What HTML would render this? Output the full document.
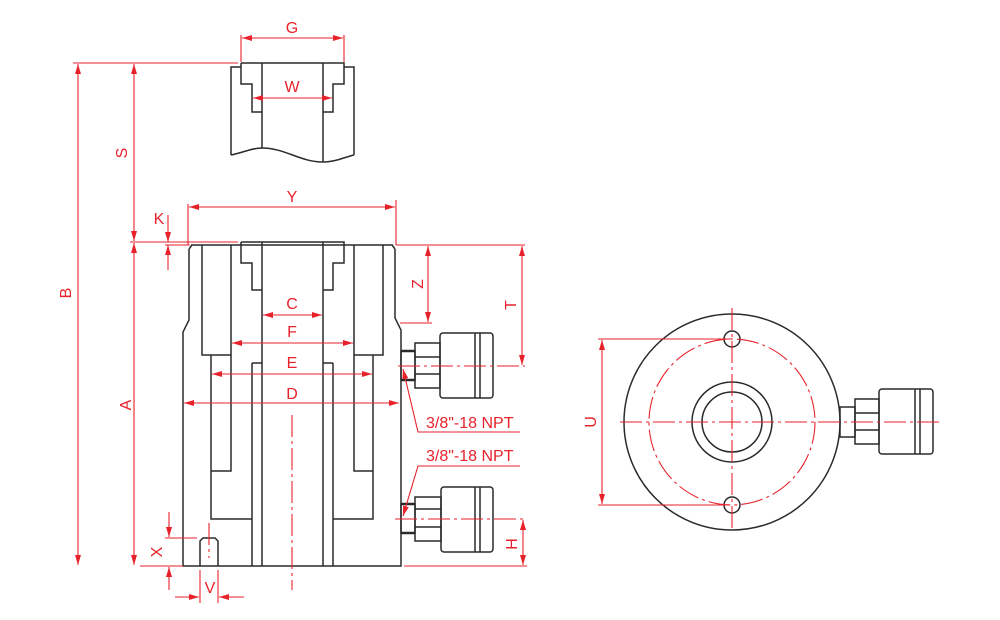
<!DOCTYPE html>
<html><head><style>
html,body{margin:0;padding:0;background:#fff;width:1000px;height:620px;overflow:hidden}
text{font-family:"Liberation Sans",sans-serif;font-size:16px;fill:#e8222b}
</style></head><body>
<svg width="1000" height="620" viewBox="0 0 1000 620" xmlns="http://www.w3.org/2000/svg">
<defs>
<marker id="a" viewBox="0 0 10 6" refX="10" refY="3" markerWidth="10" markerHeight="6" orient="auto-start-reverse" markerUnits="userSpaceOnUse"><path d="M0,0L10,3L0,6z" fill="#e8222b"/></marker>
</defs>
<g fill="none" stroke="#2a2a2a" stroke-width="1.5">
<path d="M241,63H344V84H333V112H323M241,63V84H252V112H262"/>
<path d="M241,67H231V155M344,67H354V155"/>
<path d="M262,112V148M323,63V162M262,63V112"/>
<path d="M231,155C245,152 252,148 262,148C285,148 300,162 323,162C335,162 345,157 354,155"/>
<path d="M191,245H393M189,249V320L183,332V566H401V330L395,318V249M189,249L192,245M395,249L392,245"/>
<path d="M241,242H344V263H333V290H323M241,242V263H252V290H262"/>
<path d="M262,242V566M323,242V566M252,363H262M252,363V566M333,363H323M333,363V566"/>
<path d="M202,245V355H231M231,245V471H211M211,355V519H252"/>
<path d="M383,245V355H354M354,245V471H373M373,355V519H333"/>
<path d="M200,566V541L203,538H215L218,541V566"/>
<rect x="401" y="351" width="14" height="29"/>
<path d="M401,351H415M401,380H415" stroke-width="2.5"/>
<rect x="415" y="343" width="25" height="45"/>
<path d="M415,357H440M415,374H440"/>
<rect x="440" y="333" width="53" height="65" rx="3"/>
<path d="M475,333V398M480,333V398"/>
<rect x="401" y="504" width="14" height="29"/>
<path d="M401,504H415M401,533H415" stroke-width="2.5"/>
<rect x="415" y="497" width="26" height="44"/>
<path d="M415,509H441M415,527H441"/>
<rect x="441" y="487" width="52" height="65" rx="3"/>
<path d="M475,487V552M480,487V552"/>
<circle cx="732" cy="422" r="108"/>
<circle cx="732" cy="422" r="40"/>
<circle cx="732" cy="422" r="30"/>
<circle cx="732" cy="339" r="8"/>
<circle cx="732" cy="505" r="8"/>
<rect x="840" y="407" width="15" height="30"/>
<rect x="855" y="399" width="24" height="45"/>
<path d="M855,413H879M855,430H879"/>
<rect x="879" y="389" width="54" height="65" rx="3"/>
<path d="M915,389V454M920,389V454"/>
</g>
<g fill="none" stroke="#e8222b" stroke-width="1.1">
<circle cx="732" cy="422" r="83" stroke-dasharray="22,4,3,4"/>
<path d="M620,422H942M732,308V530M292,415V590M209,523V558M395,519H527M398,366H525" stroke-dasharray="22,4,3,4"/>
<path d="M241,35V62M344,35V62"/>
<path d="M242,38H343" marker-start="url(#a)" marker-end="url(#a)"/>
<path d="M253,98H332" marker-start="url(#a)" marker-end="url(#a)"/>
<path d="M73,63H238M130,242H238M165,245H190"/>
<path d="M78,64V565" marker-start="url(#a)" marker-end="url(#a)"/>
<path d="M134,64V241" marker-start="url(#a)" marker-end="url(#a)"/>
<path d="M134,243V565" marker-start="url(#a)" marker-end="url(#a)"/>
<path d="M168,215V242" marker-end="url(#a)"/>
<path d="M168,270V245" marker-end="url(#a)"/>
<path d="M188,204V245M396,200V245M396,245H525"/>
<path d="M189,207H395" marker-start="url(#a)" marker-end="url(#a)"/>
<path d="M400,323H432"/>
<path d="M428,246V322" marker-start="url(#a)" marker-end="url(#a)"/>
<path d="M522,246V365" marker-start="url(#a)" marker-end="url(#a)"/>
<path d="M404,566H527"/>
<path d="M523,520V565" marker-start="url(#a)" marker-end="url(#a)"/>
<path d="M140,566H183M165,538H197"/>
<path d="M169,512V537" marker-end="url(#a)"/>
<path d="M169,590V567" marker-end="url(#a)"/>
<path d="M200,570V603M218,570V603"/>
<path d="M175,597H199" marker-end="url(#a)"/>
<path d="M244,597H219" marker-end="url(#a)"/>
<path d="M263,315H322" marker-start="url(#a)" marker-end="url(#a)"/>
<path d="M232,343H353" marker-start="url(#a)" marker-end="url(#a)"/>
<path d="M212,374H372" marker-start="url(#a)" marker-end="url(#a)"/>
<path d="M184,403H399" marker-start="url(#a)" marker-end="url(#a)"/>
<path d="M598,339H730M598,505H730"/>
<path d="M602,340V504" marker-start="url(#a)" marker-end="url(#a)"/>
<path d="M520,432H418L403,369" marker-end="url(#a)"/>
<path d="M520,466H418L403,516" marker-end="url(#a)"/>
</g>
<text x="292" y="33" text-anchor="middle">G</text>
<text x="292" y="92" text-anchor="middle">W</text>
<text x="292" y="202" text-anchor="middle">Y</text>
<text x="292" y="309" text-anchor="middle">C</text>
<text x="292" y="337" text-anchor="middle">F</text>
<text x="292" y="368" text-anchor="middle">E</text>
<text x="292" y="399" text-anchor="middle">D</text>
<text x="159" y="224" text-anchor="middle">K</text>
<text x="210" y="593" text-anchor="middle">V</text>
<text x="426" y="428">3/8"-18 NPT</text>
<text x="426" y="461">3/8"-18 NPT</text>
<text transform="translate(71,293) rotate(-90)" text-anchor="middle">B</text>
<text transform="translate(127,153) rotate(-90)" text-anchor="middle">S</text>
<text transform="translate(131,405) rotate(-90)" text-anchor="middle">A</text>
<text transform="translate(423,284) rotate(-90)" text-anchor="middle">Z</text>
<text transform="translate(516,305) rotate(-90)" text-anchor="middle">T</text>
<text transform="translate(517,544) rotate(-90)" text-anchor="middle">H</text>
<text transform="translate(162,552) rotate(-90)" text-anchor="middle">X</text>
<text transform="translate(596,422) rotate(-90)" text-anchor="middle">U</text>
</svg>
</body></html>
